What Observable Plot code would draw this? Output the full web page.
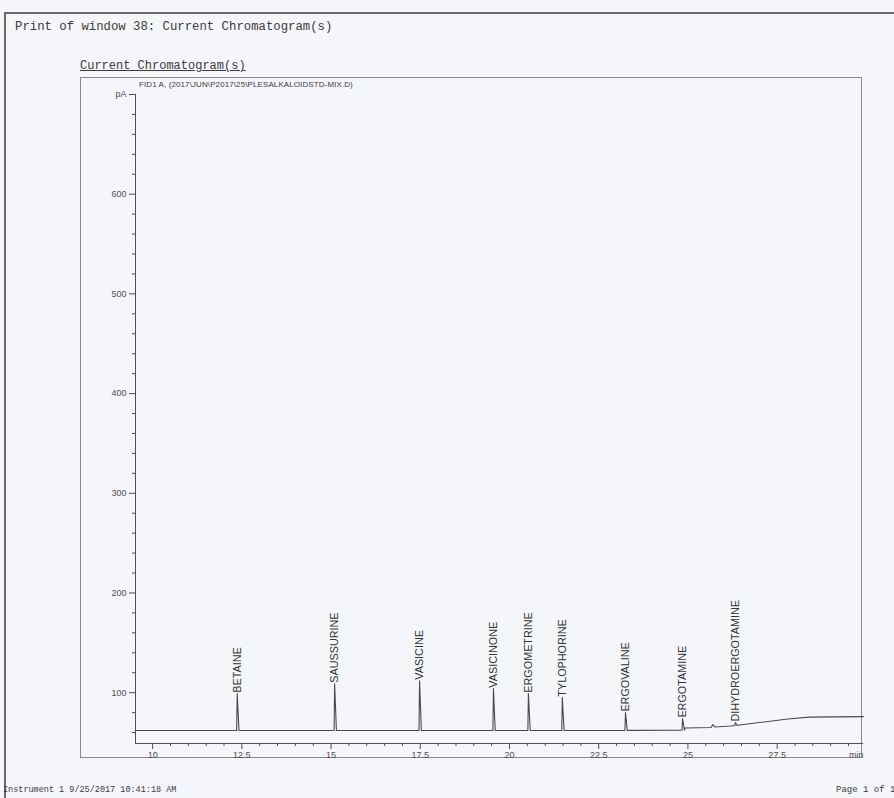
<!DOCTYPE html>
<html><head><meta charset="utf-8">
<script src="https://cdn.jsdelivr.net/npm/d3@7"></script>
<script src="https://cdn.jsdelivr.net/npm/@observablehq/plot@0.6"></script>
<style>
html,body{margin:0;padding:0}
body{background:#f4f6f9;width:894px;height:798px;overflow:hidden;position:relative;color:#3c3c3c;font-family:"Liberation Mono","DejaVu Sans Mono",monospace}
.abs{position:absolute;white-space:nowrap}
#outer{position:absolute;left:4px;top:12px;width:900px;height:800px;border-left:2px solid #6a6a6a;border-top:2px solid #6a6a6a}
#title{left:15px;top:20px;font-size:12.3px}
#sub{left:80px;top:59px;font-size:12px;text-decoration:underline}
#fid{left:139px;top:80px;font-size:8px;font-family:"Liberation Sans Narrow","Liberation Sans",sans-serif;letter-spacing:0.1px}
#box{position:absolute;left:80px;top:77px;width:782px;height:681px;border:1.5px solid #8a8a8a;box-sizing:border-box}
#chart{position:absolute;left:80px;top:77px}
#foot1{left:3px;top:785px;font-size:8.5px}
#foot2{left:836px;top:785px;font-size:9px}
</style></head>
<body>
<div id="outer"></div>
<div class="abs" id="title">Print of window 38: Current Chromatogram(s)</div>
<div class="abs" id="sub">Current Chromatogram(s)</div>
<div id="box"></div>
<div id="chart"></div>
<div class="abs" id="fid">FID1 A, (2017\JUN\P2017\25\PLESALKALOIDSTD-MIX.D)</div>
<div class="abs" id="foot1">Instrument 1 9/25/2017 10:41:18 AM</div>
<div class="abs" id="foot2">Page 1 of 1</div>
<script>
// Peaks (retention time in min, apex signal in pA, local baseline in pA)
const peakNames = ["BETAINE","SAUSSURINE","VASICINE","VASICINONE","ERGOMETRINE","TYLOPHORINE","ERGOVALINE","ERGOTAMINE","DIHYDROERGOTAMINE"];
const peakTimes = [12.37, 15.10, 17.48, 19.55, 20.53, 21.48, 23.25, 24.85, 26.33];
const peakHeights = [99, 109, 112, 104, 99, 95, 80, 74, 70];
const peakBase = [62, 62, 62, 62, 62, 62, 62.2, 62.5, 67];
// Baseline trace
const baseTimes = [9.52, 24.80, 24.92, 25.65, 25.70, 25.76, 26.20, 26.45, 27.0, 27.8, 28.4, 29.92];
const baseValues = [62, 62.3, 64.5, 65, 68, 65.5, 66.5, 67.5, 70, 73.5, 75.5, 76];
// Axes
const xDomain = [9.52, 29.92];
const yDomain = [49, 700];
const xMajor = [10, 12.5, 15, 17.5, 20, 22.5, 25, 27.5];
const xUnit = "min";
const yMajor = [100, 200, 300, 400, 500, 600, 700];
const yUnit = "pA";

const trace = [];
baseTimes.forEach((t, i) => trace.push({t, v: baseValues[i]}));
peakTimes.forEach((t, i) => {
  trace.push({t: t - 0.015, v: peakBase[i]});
  trace.push({t, v: peakHeights[i]});
  trace.push({t: t + 0.05, v: peakBase[i]});
});
trace.sort((a, b) => a.t - b.t);
const peaks = peakNames.map((name, i) => ({name, t: peakTimes[i], v: peakHeights[i]}));

const xMinor = d3.range(10, 29.95, 0.5).filter(d => !xMajor.includes(d));
const yMinor = d3.range(60, 700, 20).filter(d => d % 100 !== 0);
const ink = "#505050";
const axisFont = "'Liberation Sans Narrow','Liberation Sans',sans-serif";

const chart = Plot.plot({
  width: 783, height: 682,
  marginLeft: 55, marginRight: 0, marginTop: 17, marginBottom: 16,
  x: {domain: xDomain, axis: null},
  y: {domain: yDomain, axis: null},
  style: {background: "transparent", fontFamily: axisFont, fontSize: "9px", color: ink, overflow: "visible"},
  marks: [
    Plot.ruleX([xDomain[0]], {stroke: ink, strokeWidth: 1}),
    Plot.ruleY([yDomain[0]], {stroke: ink, strokeWidth: 1.2}),
    Plot.axisY(yMinor, {tickSize: 3, text: null, label: null, stroke: ink}),
    Plot.axisY(yMajor, {tickSize: 6, tickPadding: 3, label: null, stroke: ink, tickFormat: d => d === 700 ? yUnit : String(d)}),
    Plot.axisX(xMinor, {tickSize: 3, text: null, label: null, stroke: ink}),
    Plot.axisX(xMajor, {tickSize: 6, tickPadding: 2, label: null, stroke: ink, tickFormat: d => String(d)}),
    Plot.text([xUnit], {x: xDomain[1], y: yDomain[0], text: d => d, textAnchor: "end", dy: 12, fill: ink}),
    Plot.line(trace, {x: "t", y: "v", stroke: "#4a4a4a", strokeWidth: 1.1}),
    Plot.text(peaks, {x: "t", y: "v", text: "name", rotate: -90, textAnchor: "start", lineAnchor: "middle", dy: -1, fontSize: 10.8, fill: "#333"})
  ]
});
document.getElementById("chart").appendChild(chart);
</script>
</body></html>
